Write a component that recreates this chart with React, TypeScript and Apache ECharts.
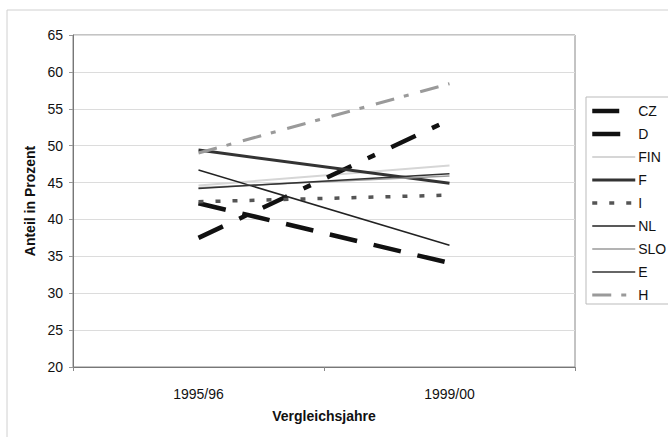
import React, { useEffect, useRef } from "react";
import * as echarts from "echarts";

const categories = ["1995/96", "1999/00"];
const seriesNames = ["CZ", "D", "FIN", "F", "I", "NL", "SLO", "E", "H"];
const CZ = [37.5, 53.5];
const D = [42.2, 34.1];
const FIN = [44.6, 47.3];
const F = [49.4, 44.9];
const I = [42.4, 43.3];
const NL = [46.7, 36.5];
const SLO = [44.3, 45.9];
const E = [44.2, 46.2];
const H = [49.0, 58.4];
const yTicks = [20, 25, 30, 35, 40, 45, 50, 55, 60, 65];

const FONT = "'Liberation Sans', Arial, sans-serif";

export default function App() {
  const ref = useRef<HTMLDivElement>(null);
  useEffect(() => {
    document.body.style.margin = "0";
    const chart = echarts.init(ref.current!, null, { renderer: "svg" });
    const values = [CZ, D, FIN, F, I, NL, SLO, E, H];
    const styles: any[] = [
      { color: "#111", width: 4.5, type: [27, 18, 8, 18] },
      { color: "#111", width: 4.5, type: [28, 17] },
      { color: "#d6d6d6", width: 2, type: "solid" },
      { color: "#333", width: 3, type: "solid" },
      { color: "#555", width: 3.5, type: [5, 12] },
      { color: "#222", width: 1.5, type: "solid" },
      { color: "#9a9a9a", width: 1.5, type: "solid" },
      { color: "#333", width: 1.5, type: "solid" },
      { color: "#9a9a9a", width: 3, type: [19, 10, 5, 12] },
    ];
    chart.setOption({
      animation: false,
      backgroundColor: "#fff",
      textStyle: { fontFamily: FONT },
      graphic: [
        {
          type: "rect",
          shape: { x: 7, y: 10, width: 700, height: 460 },
          style: { fill: "none", stroke: "#d0d0d0", lineWidth: 1 },
          silent: true,
        },
      ],
      grid: {
        left: 73,
        top: 35,
        right: 93,
        bottom: 70,
        show: true,
        borderColor: "#888",
        borderWidth: 1,
      },
      legend: {
        orient: "vertical",
        left: 586,
        top: 97,
        padding: [7, 6, 2, 4],
        itemWidth: 43,
        itemHeight: 14,
        itemGap: 9,
        borderColor: "#bbb",
        borderWidth: 1,
        itemStyle: { opacity: 0 },
        lineStyle: { width: "inherit" },
        textStyle: { fontFamily: FONT, fontSize: 14, color: "#111", padding: [0, 0, 0, -2] },
        data: seriesNames,
      },
      xAxis: {
        type: "category",
        data: categories,
        boundaryGap: true,
        name: "Vergleichsjahre",
        nameLocation: "middle",
        nameGap: 42,
        nameTextStyle: { fontFamily: FONT, fontSize: 14, fontWeight: "bold", color: "#111" },
        axisLine: { lineStyle: { color: "#777", width: 1 } },
        axisTick: { show: true, length: 4, lineStyle: { color: "#888" } },
        axisLabel: { fontFamily: FONT, fontSize: 14, color: "#111", margin: 20 },
        splitLine: { show: false },
      },
      yAxis: {
        type: "value",
        min: yTicks[0],
        max: yTicks[yTicks.length - 1],
        interval: 5,
        name: "Anteil in Prozent",
        nameLocation: "middle",
        nameGap: 34,
        nameRotate: 90,
        nameTextStyle: { fontFamily: FONT, fontSize: 14, fontWeight: "bold", color: "#111" },
        axisLine: { show: true, lineStyle: { color: "#777", width: 1 } },
        axisTick: { show: true, length: 4, lineStyle: { color: "#999" } },
        axisLabel: { fontFamily: FONT, fontSize: 14, color: "#111", margin: 10 },
        splitLine: { show: true, lineStyle: { color: "#dcdcdc", width: 1 } },
      },
      series: seriesNames.map((name, i) => ({
        name,
        type: "line",
        data: values[i],
        symbol: "none",
        showSymbol: false,
        lineStyle: styles[i],
        itemStyle: { color: styles[i].color },
        z: 10 - (i === 2 ? 5 : 0),
      })),
    });
    return () => chart.dispose();
  }, []);
  return <div ref={ref} style={{ width: 668, height: 437 }} />;
}
